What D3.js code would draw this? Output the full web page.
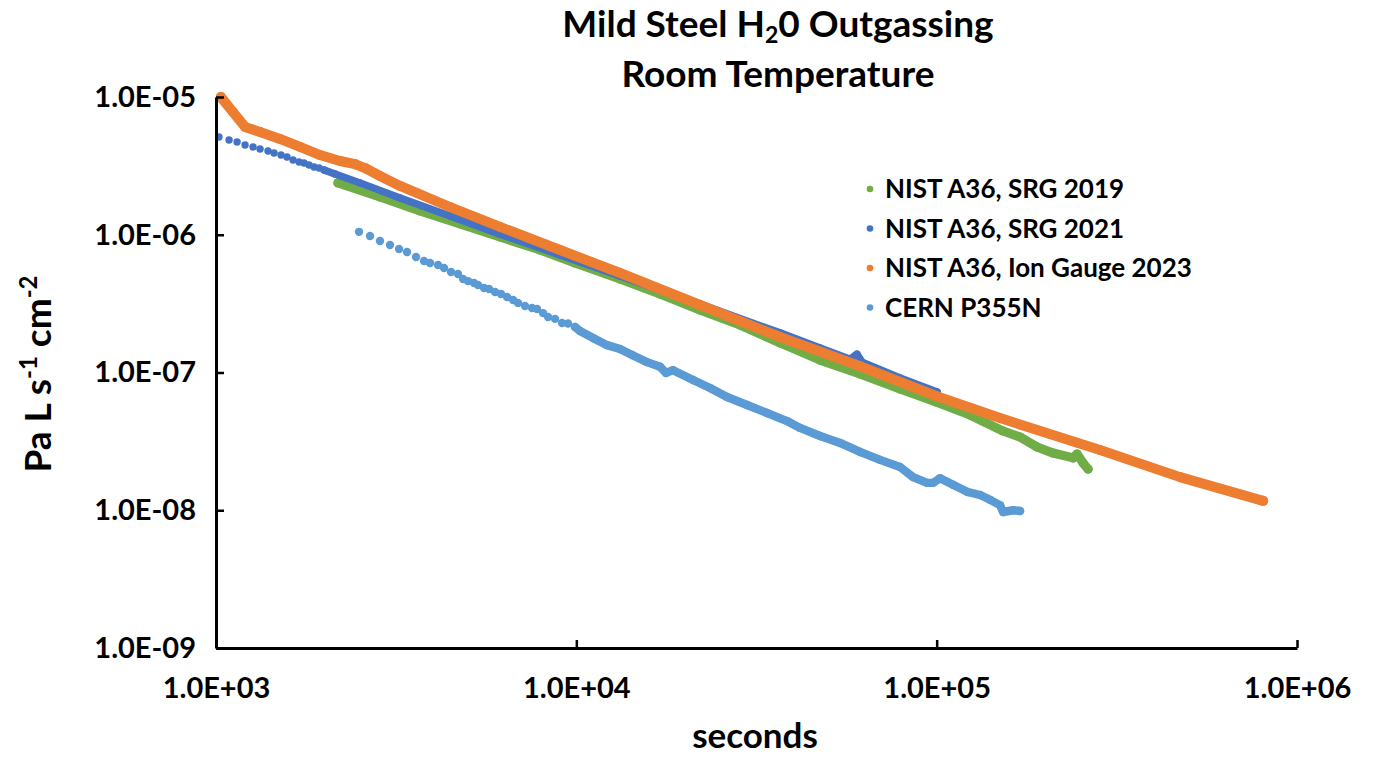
<!DOCTYPE html>
<html>
<head>
<meta charset="utf-8">
<script src="https://cdn.jsdelivr.net/npm/d3@7"></script>
<style>
  body { margin: 0; background: #fff; }
  text { font-family: Lato, "Open Sans", sans-serif; font-weight: 700; fill: #000; }
</style>
</head>
<body>
<svg id="chart" width="1374" height="761"></svg>
<script>
// Axis ticks and their labels
const xTicks = [1e3, 1e4, 1e5, 1e6];
const xTickLabels = ["1.0E+03", "1.0E+04", "1.0E+05", "1.0E+06"];
const yTicks = [1e-9, 1e-8, 1e-7, 1e-6, 1e-5];
const yTickLabels = ["1.0E-09", "1.0E-08", "1.0E-07", "1.0E-06", "1.0E-05"];

// Series names in legend order
const seriesNames = ["NIST A36, SRG 2019", "NIST A36, SRG 2021", "NIST A36, Ion Gauge 2023", "CERN P355N"];

// [time (s), outgassing rate (Pa L s^-1 cm^-2)]
const nistSrg2019 = [
  [2181, 2.38e-6], [2852, 1.88e-6], [3683, 1.49e-6], [4756, 1.20e-6], [6141, 9.63e-7],
  [7930, 7.75e-7], [9917, 6.24e-7], [13220, 4.77e-7], [17070, 3.71e-7], [22040, 2.84e-7],
  [28470, 2.21e-7], [36760, 1.64e-7], [47480, 1.23e-7], [61290, 9.75e-8], [79140, 7.59e-8],
  [99610, 6.11e-8], [123800, 4.91e-8], [152900, 3.76e-8], [170400, 3.40e-8], [189900, 2.88e-8],
  [210400, 2.60e-8], [239100, 2.40e-8], [245300, 2.56e-8], [254900, 2.20e-8], [263200, 1.99e-8]
];

const nistSrg2021 = [
  [1019, 5.12e-6], [1087, 4.87e-6], [1144, 4.71e-6], [1204, 4.48e-6], [1267, 4.34e-6],
  [1325, 4.19e-6], [1394, 4.06e-6], [1449, 3.92e-6], [1515, 3.79e-6], [1574, 3.67e-6],
  [1636, 3.49e-6], [1700, 3.37e-6], [1755, 3.32e-6], [1812, 3.21e-6], [1871, 3.10e-6],
  [1932, 3.05e-6], [1994, 2.95e-6],
  [2139, 2.76e-6], [2510, 2.38e-6], [3242, 1.85e-6], [4461, 1.37e-6], [6141, 1.01e-6],
  [9012, 7.13e-7], [13220, 5.02e-7], [22040, 3.14e-7], [36760, 1.94e-7], [47480, 1.51e-7],
  [57500, 1.25e-7], [60120, 1.36e-7], [62090, 1.19e-7], [79140, 9.12e-8], [100300, 7.22e-8]
];

const nistIonGauge2023 = [
  [1032, 1.00e-5], [1115, 7.78e-6], [1204, 6.06e-6], [1325, 5.57e-6], [1505, 4.96e-6],
  [1711, 4.34e-6], [1944, 3.79e-6], [2209, 3.43e-6], [2431, 3.26e-6], [2592, 3.05e-6],
  [2852, 2.67e-6], [3242, 2.26e-6], [4461, 1.59e-6], [6141, 1.14e-6], [9012, 7.75e-7],
  [13220, 5.28e-7], [22040, 3.09e-7], [36760, 1.81e-7], [61290, 1.11e-7], [99610, 6.75e-8],
  [149900, 4.67e-8], [284100, 2.74e-8], [473800, 1.74e-8], [805200, 1.17e-8]
];

const cernP355N = [
  [2494, 1.05e-6], [2676, 9.79e-7], [2852, 9.01e-7], [3040, 8.42e-7], [3221, 7.88e-7],
  [3389, 7.50e-7], [3590, 6.90e-7], [3778, 6.45e-7], [3926, 6.24e-7], [4133, 6.03e-7],
  [4294, 5.74e-7], [4490, 5.37e-7], [4695, 5.19e-7], [4849, 4.77e-7], [5006, 4.61e-7],
  [5201, 4.46e-7], [5336, 4.32e-7], [5544, 4.11e-7], [5724, 4.04e-7], [5949, 3.84e-7],
  [6180, 3.71e-7], [6423, 3.53e-7], [6675, 3.36e-7], [6890, 3.20e-7], [7204, 3.04e-7],
  [7534, 2.94e-7], [7780, 2.89e-7], [8084, 2.70e-7], [8346, 2.53e-7], [8728, 2.45e-7],
  [9127, 2.29e-7], [9484, 2.27e-7], [9917, 2.14e-7], [10240, 2.00e-7],
  [11130, 1.78e-7], [12170, 1.58e-7], [13220, 1.48e-7], [14280, 1.34e-7], [15710, 1.19e-7],
  [17070, 1.10e-7], [17740, 9.92e-8], [18550, 1.04e-7], [21090, 8.82e-8], [23500, 7.72e-8],
  [26200, 6.64e-8], [29770, 5.81e-8], [33820, 5.08e-8], [38440, 4.44e-8], [41770, 3.96e-8],
  [47480, 3.46e-8], [53940, 3.08e-8], [61290, 2.65e-8], [69640, 2.32e-8], [79140, 2.06e-8],
  [86010, 1.74e-8], [94060, 1.58e-8], [97730, 1.58e-8], [102200, 1.71e-8], [111000, 1.53e-8],
  [121500, 1.36e-8], [132000, 1.29e-8], [140700, 1.19e-8], [149900, 1.09e-8], [152900, 9.71e-9],
  [163000, 1.00e-8], [170400, 9.88e-9]
];

// Appearance of each series: marker radius, and the time after which the
// logged samples are so close together that the markers merge into a band.
const seriesStyle = [
  { color: "#70AD47", r: 4.6, mergeFrom: 0 },
  { color: "#4472C4", r: 3.7, mergeFrom: 1990 },
  { color: "#ED7D31", r: 5.0, mergeFrom: 0 },
  { color: "#5B9BD5", r: 4.2, mergeFrom: 9900 }
];
const seriesData = [nistSrg2019, nistSrg2021, nistIonGauge2023, cernP355N];

const svg = d3.select("#chart");
const plot = { left: 216, right: 1297, top: 97, bottom: 648 };

const x = d3.scaleLog().domain([1e3, 1e6]).range([plot.left, plot.right]);
const y = d3.scaleLog().domain([1e-9, 1e-5]).range([plot.bottom, plot.top]);

// Series
const line = d3.line().x(d => x(d[0])).y(d => y(d[1]));
seriesData.forEach((data, i) => {
  const st = seriesStyle[i];
  const g = svg.append("g").attr("class", "series");
  const merged = data.filter(d => d[0] >= st.mergeFrom);
  g.append("path")
    .datum(merged)
    .attr("d", line)
    .attr("fill", "none")
    .attr("stroke", st.color)
    .attr("stroke-width", st.r * 2)
    .attr("stroke-linecap", "round")
    .attr("stroke-linejoin", "round");
  g.selectAll("circle")
    .data(data)
    .join("circle")
    .attr("cx", d => x(d[0]))
    .attr("cy", d => y(d[1]))
    .attr("r", st.r)
    .attr("fill", st.color);
});

// Axes with inward ticks
const xAxis = d3.axisBottom(x)
  .tickValues(xTicks)
  .tickFormat((d, i) => xTickLabels[i])
  .tickSizeInner(-8).tickSizeOuter(0).tickPadding(29);
const yAxis = d3.axisLeft(y)
  .tickValues(yTicks)
  .tickFormat((d, i) => yTickLabels[i])
  .tickSizeInner(-8).tickSizeOuter(0).tickPadding(20);

const gx = svg.append("g").attr("transform", `translate(0,${plot.bottom})`).call(xAxis);
const gy = svg.append("g").attr("transform", `translate(${plot.left},0)`).call(yAxis);
[gx, gy].forEach(g => {
  g.select(".domain").attr("stroke", "#000").attr("stroke-width", 3);
  g.selectAll(".tick line").attr("stroke", "#000").attr("stroke-width", 2.5);
  g.selectAll(".tick text").attr("font-size", 29).attr("font-family", null).attr("fill", "#000");
});

// Title (two lines, subscript in the first)
const title = svg.append("text")
  .attr("x", 778).attr("y", 37)
  .attr("text-anchor", "middle")
  .attr("font-size", 37);
title.append("tspan").text("Mild Steel H");
title.append("tspan").attr("font-size", 23).attr("dy", 6).text("2");
title.append("tspan").attr("dy", -6).text("0 Outgassing");
svg.append("text")
  .attr("x", 778).attr("y", 87)
  .attr("text-anchor", "middle")
  .attr("font-size", 37)
  .text("Room Temperature");

// Axis titles
svg.append("text")
  .attr("x", 755).attr("y", 748)
  .attr("text-anchor", "middle")
  .attr("font-size", 35)
  .text("seconds");

const yTitle = svg.append("text")
  .attr("transform", "translate(51,374) rotate(-90)")
  .attr("text-anchor", "middle")
  .attr("font-size", 37);
yTitle.append("tspan").text("Pa L s");
yTitle.append("tspan").attr("font-size", 24).attr("dy", -14).text("-1");
yTitle.append("tspan").attr("dy", 14).text(" cm");
yTitle.append("tspan").attr("font-size", 24).attr("dy", -14).text("-2");

// Legend
const legend = svg.append("g").attr("transform", "translate(870,189)");
seriesNames.forEach((name, i) => {
  const row = legend.append("g").attr("transform", `translate(0,${i * 39.5})`);
  row.append("circle").attr("r", 3.3).attr("fill", seriesStyle[i].color);
  row.append("text")
    .attr("x", 15).attr("dy", "0.36em")
    .attr("font-size", 26)
    .text(name);
});
</script>
</body>
</html>
